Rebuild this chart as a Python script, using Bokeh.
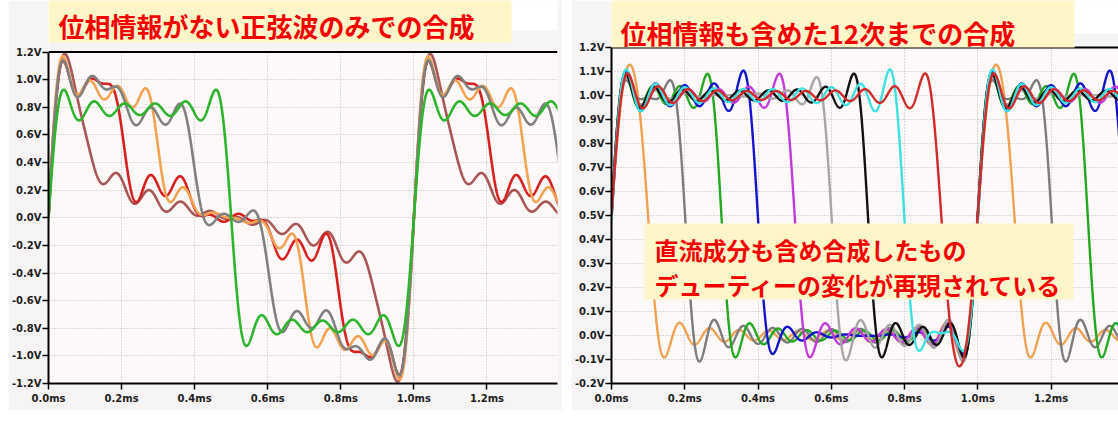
import numpy as np
from bokeh.plotting import figure
from bokeh.models import Range1d, FixedTicker, BoxAnnotation, Label, LinearAxis, Span, Spacer
from bokeh.layouts import row
from bokeh.embed import file_html
from bokeh.resources import INLINE

# ---------------- data ----------------
n_harmonics = 12            # synthesis up to the 12th harmonic
period_ms = 1.0             # pulse period (ms)

# left: magnitude only (sine terms, no phase), one curve per duty
left_duties = [0.1, 0.2, 0.3, 0.4, 0.5]
left_colors = ["#a85656", "#d82020", "#f2a452", "#808080", "#2eb52e"]

# right: with phase + DC, one curve per duty
right_duties = [0.1, 0.2, 0.3, 0.4, 0.5, 0.6, 0.7, 0.8, 0.9]
right_colors = ["#f0a152", "#7c7c7c", "#22a822", "#1414cc", "#c23ad8",
                "#a6a6a6", "#111111", "#3ee0e0", "#d22a2a"]

x_ticks = [0.0, 0.2, 0.4, 0.6, 0.8, 1.0, 1.2]
x_labels = ["0.0ms", "0.2ms", "0.4ms", "0.6ms", "0.8ms", "1.0ms", "1.2ms"]

left_y_ticks = [-1.2, -1.0, -0.8, -0.6, -0.4, -0.2, 0.0, 0.2, 0.4, 0.6, 0.8, 1.0, 1.2]
left_y_labels = ["-1.2V", "-1.0V", "-0.8V", "-0.6V", "-0.4V", "-0.2V", "0.0V",
                 "0.2V", "0.4V", "0.6V", "0.8V", "1.0V", "1.2V"]

right_y_ticks = [-0.2, -0.1, 0.0, 0.1, 0.2, 0.3, 0.4, 0.5, 0.6, 0.7, 0.8, 0.9, 1.0, 1.1, 1.2]
right_y_labels = ["-0.2V", "-0.1V", "0.0V", "0.1V", "0.2V", "0.3V", "0.4V", "0.5V",
                  "0.6V", "0.7V", "0.8V", "0.9V", "1.0V", "1.1V", "1.2V"]

left_title = "位相情報がない正弦波のみでの合成"
right_title = "位相情報も含めた12次までの合成"
right_note = ["直流成分も含め合成したもの", "デューティーの変化が再現されている"]

# ---------------- synthesis ----------------
t = np.linspace(0.0, 1.45, 3000)
n = np.arange(1, n_harmonics + 1)[:, None]


def sine_only(D):
    return (np.abs(np.sin(n * np.pi * D)) / n * np.sin(2 * np.pi * n * t / period_ms)).sum(0)


def with_phase(D):
    return D + (2.0 / (n * np.pi) * np.sin(n * np.pi * D)
                * np.cos(2 * np.pi * n * (t / period_ms - D / 2.0))).sum(0)


FRAME_BG = "#fdf9f9"
PANEL_BG = "#f6f4f4"
TICK_FONT = "DejaVu Sans"


def make_fig(width, height, x_end, y_lo, y_hi, extra_top_px, plot_px,
             bl, br, bb, xt, xl, yt, yl):
    # frame extends to the canvas top so the title boxes can live inside it
    y_end = y_hi + extra_top_px * (y_hi - y_lo) / plot_px
    p = figure(width=width, height=height, output_backend="svg", toolbar_location=None,
               x_range=Range1d(0.0, x_end), y_range=Range1d(y_lo, y_end),
               min_border_left=bl, min_border_right=br, min_border_top=0,
               min_border_bottom=bb)
    p.background_fill_color = FRAME_BG
    p.border_fill_color = PANEL_BG
    p.outline_line_color = None
    p.xaxis.ticker = FixedTicker(ticks=xt)
    p.xaxis.major_label_overrides = {v: s for v, s in zip(xt, xl)}
    p.yaxis.ticker = FixedTicker(ticks=yt)
    p.yaxis.major_label_overrides = {v: s for v, s in zip(yt, yl)}
    p.yaxis.bounds = (y_lo, y_hi)
    p.xgrid.ticker = FixedTicker(ticks=xt)
    p.ygrid.ticker = FixedTicker(ticks=yt)
    for g in (p.xgrid, p.ygrid):
        g.grid_line_color = "#b8b8b8"
        g.grid_line_dash = "1 2"
        g.grid_line_width = 1
    for ax in (p.xaxis, p.yaxis):
        ax.axis_line_color = "black"
        ax.axis_line_width = 2
        ax.major_tick_line_color = "black"
        ax.major_tick_line_width = 1.5
        ax.major_tick_out = 6
        ax.major_tick_in = 0
        ax.minor_tick_line_color = None
        ax.major_label_text_font = TICK_FONT
        ax.major_label_text_font_style = "bold"
        ax.major_label_text_font_size = "10px"
        ax.major_label_text_color = "#1e1e1e"
    p.yaxis.major_label_standoff = 1
    p.xaxis.major_label_standoff = 3
    # panel-coloured area above the plot region (covers grid above y_hi)
    p.add_layout(BoxAnnotation(bottom=y_hi, fill_color=PANEL_BG, fill_alpha=1.0,
                               line_color=None, level="underlay"))
    # top border line of the plot region
    p.add_layout(Span(location=y_hi, dimension="width", line_color="black", line_width=2))
    return p


def screen_box(p, left, right, bottom, top, color, level="annotation"):
    p.add_layout(BoxAnnotation(left=left, right=right, bottom=bottom, top=top,
                               left_units="screen", right_units="screen",
                               bottom_units="screen", top_units="screen",
                               fill_color=color, fill_alpha=1.0, line_color=None,
                               level=level))


def red_text(p, x, y, text, size):
    p.add_layout(Label(x=x, y=y, x_units="screen", y_units="screen", text=text,
                       text_baseline="middle", text_align="left",
                       text_font="Noto Sans CJK JP", text_font_style="bold",
                       text_font_size=size, text_color="#f50000"))


TITLE_BG = "#fef5c8"

# ---------------- left panel ----------------
pl = make_fig(554, 410, 1.393, -1.2, 1.2, 52, 334, 39, 5, 24,
              x_ticks, x_labels, left_y_ticks, left_y_labels)
for D, c in zip(left_duties, left_colors):
    pl.line(t, sine_only(D), line_color=c, line_width=2.6)
screen_box(pl, -60, 700, 353, 500, "white", level="underlay")
screen_box(pl, 0, 463, 341, 400, TITLE_BG)
red_text(pl, 10, 358, left_title, "26px")

# ---------------- right panel ----------------
pr = make_fig(547, 410, 1.384, -0.2, 1.2, 47, 336, 39, 0, 27,
              x_ticks, x_labels, right_y_ticks, right_y_labels)
for D, c in zip(right_duties, right_colors):
    pr.line(t, with_phase(D), line_color=c, line_width=2.4)
screen_box(pr, -60, 700, 350, 500, "white", level="underlay")
screen_box(pr, -1, 463, 336, 400, TITLE_BG)
red_text(pr, 9, 351, right_title, "26px")
screen_box(pr, 33, 462, 84, 160, TITLE_BG)
red_text(pr, 43, 134, right_note[0], "24px")
red_text(pr, 43, 99, right_note[1], "24px")

layout = row(Spacer(width=8, height=410), pl, Spacer(width=9, height=410), pr)
open("out.html", "w").write(file_html(layout, INLINE))
